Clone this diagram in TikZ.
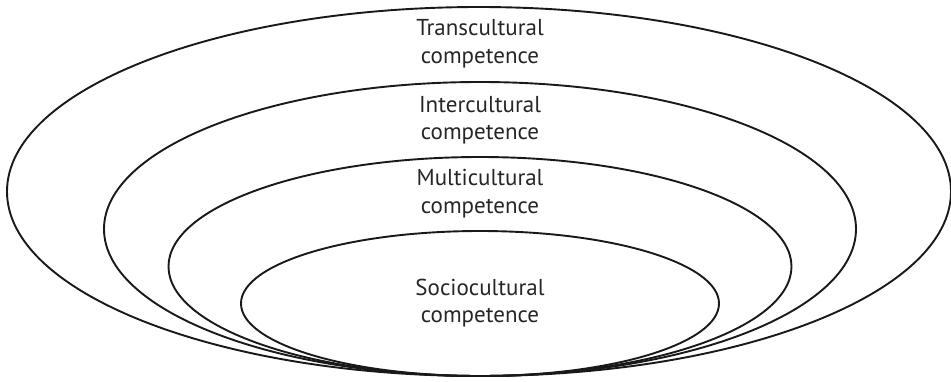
\documentclass[tikz,border=0pt]{standalone}
\usepackage{fontspec}
\setmainfont{PT Sans}
\begin{document}
\begin{tikzpicture}[x=1pt,y=-1pt,
  ring/.style={draw=black!90,line width=1.9pt},
  lbl/.style={align=center,font=\fontsize{23}{27.5}\selectfont,text=black!85,inner sep=0pt}]
\useasboundingbox (0,0) rectangle (951,381);
\draw[ring] (479,191.5) ellipse [x radius=472, y radius=184.5];
\draw[ring] (480,229) ellipse [x radius=376, y radius=147];
\draw[ring] (480,266.5) ellipse [x radius=311.5, y radius=109.5];
\draw[ring] (480,303.5) ellipse [x radius=239, y radius=72.5];
\node[lbl] (trans) at (480,43.7) {Transcultural\\competence};
\node[lbl] (inter) at (480,120.3) {Intercultural\\competence};
\node[lbl] (multi) at (480,193.7) {Multicultural\\competence};
\node[lbl] (socio) at (480,303.3) {Sociocultural\\competence};
\end{tikzpicture}
\end{document}
